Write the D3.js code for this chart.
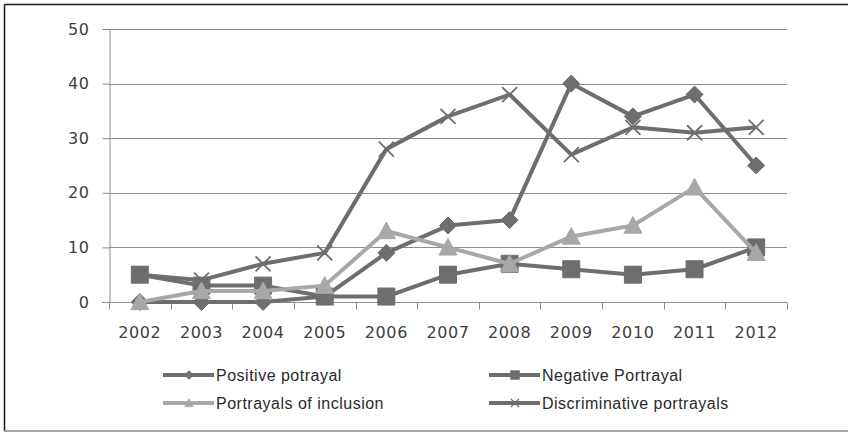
<!DOCTYPE html>
<html>
<head>
<meta charset="utf-8">
<script src="https://cdn.jsdelivr.net/npm/d3@7"></script>
<style>
  html, body { margin: 0; padding: 0; background: #fff; }
  svg { display: block; }
</style>
</head>
<body>
<svg id="chart" width="848" height="432"></svg>
<script>
// Yearly counts of portrayal types
const years = ["2002","2003","2004","2005","2006","2007","2008","2009","2010","2011","2012"];
const positive = [0, 0, 0, 1, 9, 14, 15, 40, 34, 38, 25];
const negative = [5, 3, 3, 1, 1, 5, 7, 6, 5, 6, 10];
const inclusion = [0, 2, 2, 3, 13, 10, 7, 12, 14, 21, 9];
const discriminative = [5, 4, 7, 9, 28, 34, 38, 27, 32, 31, 32];
const yTicks = [0, 10, 20, 30, 40, 50];

const seriesNames = ["Positive potrayal", "Negative Portrayal", "Portrayals of inclusion", "Discriminative portrayals"];
const series = [
  { name: seriesNames[0], values: positive, color: "#6e6e6e", marker: "diamond" },
  { name: seriesNames[1], values: negative, color: "#6e6e6e", marker: "square" },
  { name: seriesNames[2], values: inclusion, color: "#a8a8a8", marker: "triangle" },
  { name: seriesNames[3], values: discriminative, color: "#6e6e6e", marker: "cross" }
];

const svg = d3.select("#chart");
const W = 848, H = 432;
const plot = { left: 109, right: 787, top: 29, bottom: 302 };
const font = "'DejaVu Sans', sans-serif";

// Outer frame: dark top and left, gray bottom
svg.append("line").attr("x1", 4.5).attr("x2", W).attr("y1", 4.5).attr("y2", 4.5)
  .attr("stroke", "#1a1a1a").attr("stroke-width", 1.5);
svg.append("line").attr("x1", 4.5).attr("x2", 4.5).attr("y1", 4.5).attr("y2", 431)
  .attr("stroke", "#1a1a1a").attr("stroke-width", 1.5);
svg.append("line").attr("x1", 4).attr("x2", W).attr("y1", 431).attr("y2", 431)
  .attr("stroke", "#8a8a8a").attr("stroke-width", 1.5);

const x = d3.scaleBand().domain(years).range([plot.left, plot.right]).padding(0);
const y = d3.scaleLinear().domain([0, 50]).range([plot.bottom, plot.top]);
const cx = d => x(d) + x.bandwidth() / 2;

// Horizontal gridlines
svg.append("g").selectAll("line").data(yTicks.filter(t => t > 0)).join("line")
  .attr("x1", plot.left).attr("x2", plot.right)
  .attr("y1", d => Math.round(y(d)) + 0.5).attr("y2", d => Math.round(y(d)) + 0.5)
  .attr("stroke", "#8c8c8c").attr("stroke-width", 1);

// Y axis
const yAxis = svg.append("g").attr("transform", `translate(${plot.left + 0.5},0)`)
  .call(d3.axisLeft(y).tickValues(yTicks).tickSize(7).tickPadding(13).tickFormat(d3.format("d")));
yAxis.select(".domain").attr("stroke", "#8c8c8c");
yAxis.selectAll(".tick line").attr("stroke", "#8c8c8c");
yAxis.selectAll(".tick text").attr("font-family", font).attr("font-size", 16)
  .attr("letter-spacing", 0.6).attr("fill", "#404040");

// X axis with ticks at category boundaries
const xg = svg.append("g").attr("transform", `translate(0,${Math.round(plot.bottom) + 0.5})`);
xg.append("line").attr("x1", plot.left - 7).attr("x2", plot.right).attr("stroke", "#8c8c8c");
xg.selectAll("line.tk").data(years.concat(["end"])).join("line").attr("class", "tk")
  .attr("x1", (d, i) => Math.round(plot.left + i * x.bandwidth()) + 0.5)
  .attr("x2", (d, i) => Math.round(plot.left + i * x.bandwidth()) + 0.5)
  .attr("y1", 0).attr("y2", 7).attr("stroke", "#8c8c8c");
xg.selectAll("text").data(years).join("text")
  .attr("x", d => cx(d)).attr("y", 35)
  .attr("text-anchor", "middle")
  .attr("font-family", font).attr("font-size", 16).attr("letter-spacing", 0.6)
  .attr("fill", "#404040")
  .text(d => d);

// Marker shapes
function markerPath(type, s) {
  const h = s / 2;
  switch (type) {
    case "diamond": return `M0,${-h}L${h},0L0,${h}L${-h},0Z`;
    case "square": return `M${-h},${-h}H${h}V${h}H${-h}Z`;
    case "triangle": return `M0,${-h}L${h},${h * 0.85}L${-h},${h * 0.85}Z`;
    case "cross": return `M${-h},${-h}L${h},${h}M${h},${-h}L${-h},${h}`;
  }
}
const markerSize = { diamond: 17, square: 17, triangle: 18, cross: 15 };

const line = d3.line().x((d, i) => cx(years[i])).y(d => y(d));

series.forEach(s => {
  const g = svg.append("g");
  g.append("path").datum(s.values).attr("d", line)
    .attr("fill", "none").attr("stroke", s.color).attr("stroke-width", 4)
    .attr("stroke-linejoin", "round");
  g.selectAll("path.m").data(s.values).join("path").attr("class", "m")
    .attr("transform", (d, i) => `translate(${cx(years[i])},${y(d)})`)
    .attr("d", markerPath(s.marker, markerSize[s.marker]))
    .attr("fill", s.marker === "cross" ? "none" : s.color)
    .attr("stroke", s.color)
    .attr("stroke-width", s.marker === "cross" ? 1.8 : 1);
});

// Legend
const legendPos = [[163, 375], [489, 375], [163, 403], [489, 403]];
const legendMarkerSize = { diamond: 9, square: 9, triangle: 9, cross: 8 };
series.forEach((s, i) => {
  const [lx, ly] = legendPos[i];
  const g = svg.append("g").attr("transform", `translate(${lx},${ly})`);
  g.append("line").attr("x1", 0).attr("x2", 51).attr("y1", 0).attr("y2", 0)
    .attr("stroke", s.color).attr("stroke-width", 4);
  g.append("path").attr("transform", "translate(26,0)")
    .attr("d", markerPath(s.marker, legendMarkerSize[s.marker]))
    .attr("fill", s.marker === "cross" ? "none" : s.color)
    .attr("stroke", s.color).attr("stroke-width", s.marker === "cross" ? 1.2 : 0.5);
  g.append("text").attr("x", 53).attr("y", 6)
    .attr("font-family", "'Liberation Sans', Arial, sans-serif")
    .attr("font-size", 16).attr("letter-spacing", 0.5).attr("fill", "#2a2a2a")
    .text(s.name);
});
</script>
</body>
</html>
